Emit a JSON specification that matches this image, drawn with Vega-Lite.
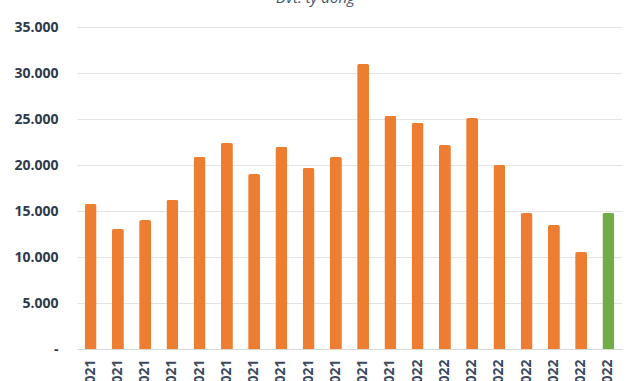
{
  "$schema": "https://vega.github.io/schema/vega-lite/v6.json",
  "autosize": {"type": "none"},
  "width": 545,
  "height": 322,
  "padding": {"left": 77, "top": 27, "right": 12, "bottom": 32},
  "background": "white",
  "title": {
    "text": "Đvt: tỷ đồng",
    "font": "Open Sans",
    "fontSize": 15,
    "fontStyle": "italic",
    "fontWeight": "normal",
    "color": "#44546a",
    "anchor": "middle",
    "frame": "group",
    "dx": -34,
    "baseline": "alphabetic",
    "offset": 2
  },
  "data": {
    "values": [
      {"thang": "01/2021", "giatri": 15760, "nam": "2021"},
      {"thang": "02/2021", "giatri": 13040, "nam": "2021"},
      {"thang": "03/2021", "giatri": 14020, "nam": "2021"},
      {"thang": "04/2021", "giatri": 16200, "nam": "2021"},
      {"thang": "05/2021", "giatri": 20870, "nam": "2021"},
      {"thang": "06/2021", "giatri": 22390, "nam": "2021"},
      {"thang": "07/2021", "giatri": 19020, "nam": "2021"},
      {"thang": "08/2021", "giatri": 21960, "nam": "2021"},
      {"thang": "09/2021", "giatri": 19670, "nam": "2021"},
      {"thang": "10/2021", "giatri": 20870, "nam": "2021"},
      {"thang": "11/2021", "giatri": 30980, "nam": "2021"},
      {"thang": "12/2021", "giatri": 25330, "nam": "2021"},
      {"thang": "01/2022", "giatri": 24570, "nam": "2022"},
      {"thang": "02/2022", "giatri": 22170, "nam": "2022"},
      {"thang": "03/2022", "giatri": 25110, "nam": "2022"},
      {"thang": "04/2022", "giatri": 20000, "nam": "2022"},
      {"thang": "05/2022", "giatri": 14780, "nam": "2022"},
      {"thang": "06/2022", "giatri": 13480, "nam": "2022"},
      {"thang": "07/2022", "giatri": 10540, "nam": "2022"},
      {"thang": "08/2022", "giatri": 14780, "nam": "2022h"}
    ]
  },
  "mark": {"type": "bar", "cornerRadiusTopLeft": 2, "cornerRadiusTopRight": 2},
  "encoding": {
    "x": {
      "field": "thang",
      "type": "ordinal",
      "sort": null,
      "scale": {"paddingInner": 0.56, "paddingOuter": 0.28},
      "axis": {
        "title": null,
        "labelAngle": 270,
        "labelPadding": 10,
        "ticks": false,
        "domain": true,
        "domainColor": "#d9d9d9",
        "labelFont": "Open Sans",
        "labelFontSize": 14,
        "labelFontWeight": "bold",
        "labelColor": "#3b4a5e"
      }
    },
    "y": {
      "field": "giatri",
      "type": "quantitative",
      "scale": {"domain": [0, 35000], "nice": false},
      "axis": {
        "title": null,
        "values": [0, 5000, 10000, 15000, 20000, 25000, 30000, 35000],
        "labelExpr": "datum.value == 0 ? '-\u00a0\u00a0\u00a0' : replace(format(datum.value, ','), ',', '.')",
        "domain": false,
        "ticks": false,
        "grid": true,
        "gridColor": "#e3e3e3",
        "labelPadding": 19,
        "labelFont": "Open Sans",
        "labelFontSize": 14,
        "labelFontWeight": "bold",
        "labelColor": "#2e3a4b"
      }
    },
    "color": {
      "field": "nam",
      "type": "nominal",
      "scale": {"domain": ["2021", "2022", "2022h"], "range": ["#ed7d31", "#ed7d31", "#70ad47"]},
      "legend": null
    }
  },
  "config": {"view": {"stroke": null}}
}
